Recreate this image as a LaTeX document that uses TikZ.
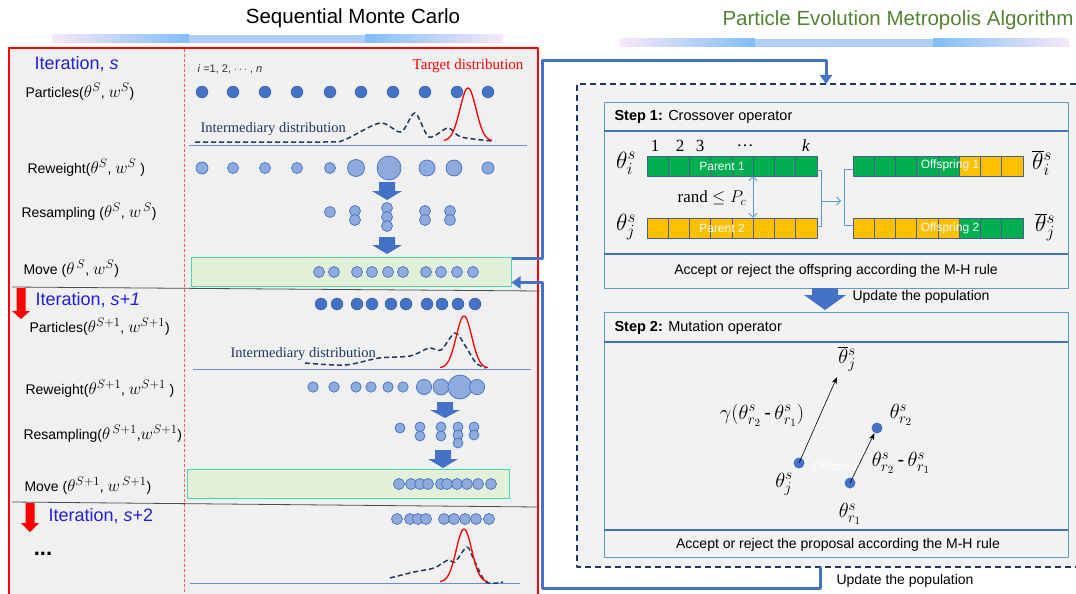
\RequirePackage{fix-cm}
\documentclass[tikz,border=0pt]{standalone}
\usepackage{fontspec}
\setmainfont{Liberation Sans}
\newfontfamily\timesfont{Liberation Serif}
\usetikzlibrary{arrows.meta}

\definecolor{smcblue}{RGB}{68,114,196}
\definecolor{dotlight}{RGB}{143,170,220}
\definecolor{bggray}{RGB}{240,240,240}
\definecolor{navy}{RGB}{31,56,100}
\definecolor{itblue}{RGB}{32,32,215}
\definecolor{pemgreen}{RGB}{84,130,53}
\definecolor{genegreen}{RGB}{0,176,80}
\definecolor{geneyellow}{RGB}{255,192,0}
\definecolor{cellline}{RGB}{70,95,140}
\definecolor{stepline}{RGB}{91,155,213}
\definecolor{movefill}{RGB}{226,240,217}
\definecolor{moveline}{RGB}{70,215,175}
\definecolor{barpink}{RGB}{248,232,248}
\definecolor{barblue}{RGB}{128,190,250}
\definecolor{barmid}{RGB}{176,204,248}

% bigger math in the labels
\DeclareMathSizes{14}{17}{12.5}{9}
\DeclareMathSizes{20}{20.5}{15}{11}
\DeclareMathSizes{23}{23.5}{17}{12}

\newcommand\fsz[1]{\fontsize{#1}{#1}\selectfont}
% block arrow: colour, x, top y, shaft half width, head half width, shaft length, head length
\newcommand\blkarrow[7]{\fill[#1] ({#2-#4},#3) -- ({#2+#4},#3) -- ({#2+#4},{#3+#6}) -- ({#2+#5},{#3+#6})
  -- (#2,{#3+#6+#7}) -- ({#2-#5},{#3+#6}) -- ({#2-#4},{#3+#6}) -- cycle;}

\begin{document}
\begin{tikzpicture}[x=1pt,y=-1pt,line join=round,
  lbl/.style={anchor=west,font=\fsz{14}},
  itlbl/.style={anchor=west,text=itblue,font=\fsz{18}},
  dotdk/.style={fill=smcblue,draw=smcblue!80!black,line width=0.4pt},
  dotlt/.style={fill=dotlight,draw=smcblue,line width=0.7pt},
  movebox/.style={draw=moveline,fill=movefill,line width=1pt,inner sep=0pt},
  link/.style={draw=smcblue,line width=3pt,-{Triangle[length=9pt,width=12pt]}},
  gene/.style={draw=cellline,line width=0.6pt},
  bar/.style={text=white,font=\fsz{12},inner sep=0pt,minimum width=170pt,minimum height=20pt},
  brk/.style={draw=stepline,line width=0.8pt},
  ser/.style={font=\timesfont\fsz{17}},
  mth/.style={font=\fsz{20},inner sep=1pt},
  bigmth/.style={font=\fsz{23},inner sep=1pt},
  pt/.style={circle,fill=smcblue,inner sep=0pt,minimum size=11pt}]
  \useasboundingbox (0,0) rectangle (1076,594);

  % titles
  \node[font=\fsz{20.5}] (smctitle) at (353,18) {Sequential Monte Carlo};
  \shade[left color=barpink,right color=barblue] (52,35) rectangle (189,43);
  \fill[barmid] (189,35) rectangle (365,43);
  \shade[left color=barblue,right color=barpink] (365,35) rectangle (503,43);
  \node[font=\fsz{20.5},text=pemgreen] (pemtitle) at (898,20) {Particle Evolution Metropolis Algorithm};
  \shade[left color=barpink,right color=barblue] (620,39) rectangle (755,47);
  \fill[barmid] (755,39) rectangle (933,47);
  \shade[left color=barblue,right color=barpink] (933,39) rectangle (1069,47);

  % SMC panel
  \fill[bggray] (9,48) rectangle (538,594);
  \draw[red,line width=1.4pt] (9,594) -- (9,48) -- (538,48) -- (538,594);
  \draw[red!65,line width=0.8pt,dash pattern=on 3pt off 2pt] (184,49) -- (184,594);
  \draw[black!70,line width=0.8pt] (12,287) -- (540,291);
  \draw[black!70,line width=0.8pt] (12,502) -- (538,507);

  % iteration s
  \node[itlbl] (iter1) at (31,64) {Iteration, \textit{s}};
  \node[anchor=west,font=\fsz{11},text=black!80] (idx) at (194,69) {\textit{i} =1, 2, $\cdots$ , \textit{n}};
  \node[anchor=east,text=red,font=\timesfont\fsz{15}] (tgt1) at (527,66) {Target distribution};
  \node[lbl] (part1) at (22,92) {Particles($\theta^{S}$, $w^{S}$)};
  \foreach \x in {202,233,265,297,330,361,393,425,457,488} \filldraw[dotdk] (\x,92) circle (6pt);
  \node[anchor=west,text=navy,font=\timesfont\fsz{14.5}] (int1) at (197,129) {Intermediary distribution};
  \draw[smcblue!80,line width=0.8pt] (189,145) -- (527,145);
  \draw[navy,line width=1.5pt,dash pattern=on 5pt off 3pt] plot[smooth] coordinates {(195,142) (324,142) (344,140) (380,123) (401,132) (415,113) (429,137) (448,128) (461,137) (492,141)};
  \draw[red,line width=1.3pt] plot[domain=444:492,samples=40,smooth] (\x,{141-53*exp(-(\x-468)*(\x-468)/128)});
  \node[lbl] (rw1) at (24,168) {Reweight($\theta^{S}$, $w^{S}$ )};
  \foreach \x/\r in {202/6,233/5.5,265/5.5,297/5.5,330/5.5,356/8.5,389/12,427/8,454/8,488/6} \filldraw[dotlt] (\x,168) circle (\r pt);
  \blkarrow{smcblue}{387}{182}{8}{15}{9}{9}
  \node[lbl] (rs1) at (18,212) {Resampling ($\theta^{S}$, $w^{\,S}$)};
  \foreach \x/\y in {330/212,355/211,355/220,387/208,387/217,387/226,425/211,425/220,450/211,450/220} \filldraw[dotlt] (\x,\y) circle (5.5pt);
  \blkarrow{smcblue}{387}{237}{8}{15}{8}{9}
  \node[lbl] (mv1) at (20,269) {Move ($\theta^{\,S}$, $w^{S}$)};
  \node[movebox,minimum width=320pt,minimum height=29pt] (move1) at (351,271.5) {};
  \foreach \x in {319,334,357,372,388,403,426,441,457,473} \filldraw[dotlt] (\x,272) circle (5.5pt);

  % iteration s+1
  \blkarrow{red}{21}{288}{4.5}{9}{23}{8}
  \node[itlbl] (iter2) at (32,300) {Iteration, \textit{s+1}};
  \node[lbl] (part2) at (26,327) {Particles($\theta^{S+1}$, $w^{S+1}$)};
  \foreach \x in {321,337,357,372,391,406,427,442,458,475} \filldraw[dotdk] (\x,304) circle (6pt);
  \node[anchor=west,text=navy,font=\timesfont\fsz{14.5}] (int2) at (227,354) {Intermediary distribution};
  \draw[smcblue!80,line width=0.8pt] (193,369) -- (531,369);
  \draw[navy,line width=1.5pt,dash pattern=on 5pt off 3pt] plot[smooth] coordinates {(305,363) (345,365) (379,358) (410,356) (429,348) (441,350) (455,333) (466,347) (476,363) (486,368)};
  \draw[red,line width=1.3pt] plot[domain=440:488,samples=40,smooth] (\x,{368-52*exp(-(\x-464)*(\x-464)/120)});
  \node[lbl] (rw2) at (22,389) {Reweight($\theta^{S+1}$, $w^{S+1}$ )};
  \foreach \x/\r in {313/5.2,334/5.2,356/5.2,371/5.2,388/5.2,403/5.2,424/7.6,441/8,460/12,477/7.6} \filldraw[dotlt] (\x,387) circle (\r pt);
  \blkarrow{smcblue}{445}{402}{8}{15}{8}{8}
  \node[lbl] (rs2) at (20,434) {Resampling($\theta^{\,S+1}$,$w^{S+1}$)};
  \foreach \x/\y in {400/428,420/427,420/436,441/427,441/436,458/427,458/435,458/443,474/427,474/435} \filldraw[dotlt] (\x,\y) circle (5pt);
  \blkarrow{smcblue}{443}{450}{8}{15}{9}{9}
  \node[lbl] (mv2) at (21,486) {Move ($\theta^{S+1}$, $w^{\,S+1}$)};
  \node[movebox,minimum width=322pt,minimum height=29pt] (move2) at (348,483.5) {};
  \foreach \x in {399,411,420,428,441,447,457,467,478,491} \filldraw[dotlt] (\x,484) circle (5.5pt);

  % iteration s+2
  \blkarrow{red}{30}{503}{4.5}{9}{20}{9}
  \node[itlbl] (iter3) at (45,516) {Iteration, \textit{s}+2};
  \foreach \x in {397,410,418,426,444,454,465,476,489} \filldraw[dotlt] (\x,519) circle (5.5pt);
  \node[font=\fsz{22}\bfseries] (more) at (43,554) {...};
  \draw[smcblue!80,line width=0.8pt] (190,583) -- (520,583);
  \draw[navy,line width=1.5pt,dash pattern=on 5pt off 3pt] plot[smooth] coordinates {(390,578) (414,572) (434,568) (448,560) (455,562) (467,547) (474,560) (486,582) (503,582)};
  \draw[red,line width=1.3pt] plot[domain=440:488,samples=40,smooth] (\x,{582-53*exp(-(\x-464)*(\x-464)/120)});

  % PEM panel
  \fill[black!5] (577,84) rectangle (1076,567);
  \draw[navy,line width=1.8pt,dash pattern=on 6pt off 4pt] (1076,84) -- (577,84) -- (577,567) -- (1076,567);
  \coordinate (pin) at (826,84);
  \coordinate (pout) at (820,567);

  % step 1
  \draw[stepline,line width=1pt] (604,102) rectangle (1068,288);
  \draw[smcblue,line width=2pt] (604,131) -- (1068,131) (604,254) -- (1068,254);
  \node[anchor=west,font=\fsz{14.5}] (s1title) at (611,117) {\textbf{Step 1:} Crossover operator};
  \foreach \x/\t [count=\n] in {655/1,680/2,700/3,745/\dots,806/\textit{k}} \node[ser] (num\n) at (\x,146) {\t};
  \node[bigmth] (thi) at (626,163) {$\theta_i^s$};
  \node[bigmth] (thj) at (626,227) {$\theta_j^s$};
  \node[bigmth] (thibar) at (1042,163) {$\overline{\theta}{}_i^s$};
  \node[bigmth] (thjbar) at (1045,227) {$\overline{\theta}{}_j^s$};
  \foreach \i in {0,...,7} {
    \draw[gene,fill=genegreen] ({647+21.25*\i},156) rectangle +(21.25,20);
    \draw[gene,fill=geneyellow] ({647+21.25*\i},218) rectangle +(21.25,20);}
  \foreach \i in {0,...,4} {
    \draw[gene,fill=genegreen] ({853+21.25*\i},156) rectangle +(21.25,20);
    \draw[gene,fill=geneyellow] ({853+21.25*\i},218) rectangle +(21.25,20);}
  \foreach \i in {5,6,7} {
    \draw[gene,fill=geneyellow] ({853+21.25*\i},156) rectangle +(21.25,20);
    \draw[gene,fill=genegreen] ({853+21.25*\i},218) rectangle +(21.25,20);}
  \node[bar] (par1) at (732,166) {Parent 1\hspace*{20pt}};
  \node[bar] (par2) at (732,228) {Parent 2\hspace*{20pt}};
  \node[bar] (off1) at (938,165) {\hspace*{24pt}Offspring 1};
  \node[bar] (off2) at (938,228) {\hspace*{24pt}Offspring 2};
  \draw[brk,{Straight Barb[length=4pt]}-{Straight Barb[length=4pt]}] ([xshift=21pt]par1.south) -- ([xshift=21pt]par2.north);
  \node[ser] (rnd) at (712,198) {rand $\leq P_c$};
  \draw[brk] ([yshift=-4pt]par1.east) -- ++(4,0) |- ([yshift=2pt]par2.east);
  \coordinate (cross) at (822,201);
  \draw[brk,-{Straight Barb[length=4pt]}] (cross) -- ++(19,0);
  \draw[brk] ([yshift=-4pt]off1.west) -- ++(-8,0) |- ([yshift=3pt]off2.west);
  \node[font=\fsz{14}] (s1foot) at (836,271) {Accept or reject the offspring according the M-H rule};
  \blkarrow{smcblue}{825}{288}{13}{21}{7}{15}
  \node[anchor=west,font=\fsz{14}] (upd1) at (849,297) {Update the population};

  % step 2
  \draw[stepline,line width=1pt] (604,312) rectangle (1068,557);
  \draw[smcblue,line width=2pt] (604,342) -- (1068,342) (604,530) -- (1068,530);
  \node[anchor=west,font=\fsz{14.5}] (s2title) at (611,328) {\textbf{Step 2:} Mutation operator};
  \node[font=\fsz{12},text=white,inner sep=1pt] (offsp) at (836,467) {Offspring};
  \node[pt] (dj) at (799,463) {};
  \node[pt] (dr1) at (850,483) {};
  \node[pt] (dr2) at (877,428) {};
  \coordinate (jbar) at (837,377);
  \draw[-{Stealth[length=7pt,width=5pt]},line width=0.6pt] (dj.center) -- (jbar);
  \draw[-{Stealth[length=7pt,width=5pt]},line width=0.6pt] (dr1.center) -- (dr2);
  \node[mth] (ljbar) at (847,359) {$\overline{\theta}{}_j^s$};
  \node[mth] (lgam) at (762,415) {$\gamma(\theta_{r_2}^s$\,-\,$\theta_{r_1}^s)$};
  \node[mth] (lr2) at (901,415) {$\theta_{r_2}^s$};
  \node[mth] (ldiff) at (901,463) {$\theta_{r_2}^s$\,-\,$\theta_{r_1}^s$};
  \node[mth] (lj) at (784,484) {$\theta_j^s$};
  \node[mth] (lr1) at (850,514) {$\theta_{r_1}^s$};
  \node[font=\fsz{14}] (s2foot) at (838,545) {Accept or reject the proposal according the M-H rule};
  \node[anchor=west,font=\fsz{14}] (upd2) at (833,581) {Update the population};

  % links between the panels
  \draw[link] ([yshift=-2pt]move1.north east) -| (542,61) -| (pin);
  \draw[link] (pout) |- (542,588) |- ([yshift=4pt]move1.south east);
\end{tikzpicture}
\end{document}
